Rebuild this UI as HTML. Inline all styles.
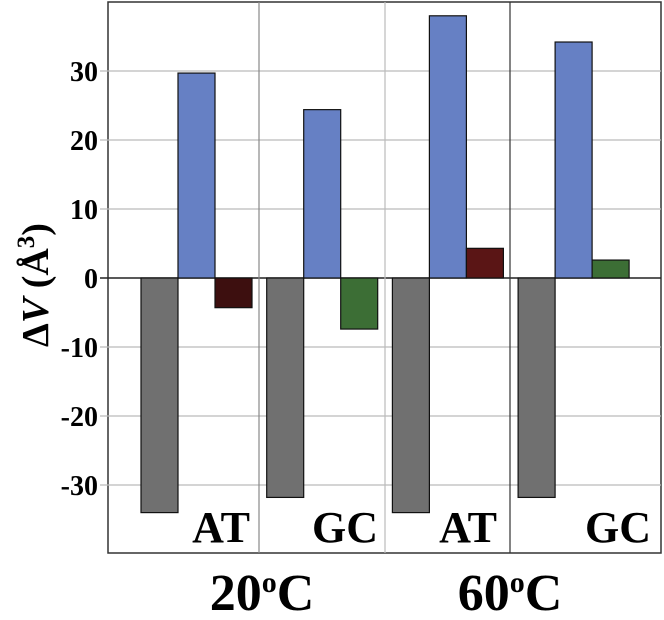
<!DOCTYPE html>
<html><head><meta charset="utf-8"><style>
body{margin:0;background:#fff;width:664px;height:615px;overflow:hidden}
svg text{font-family:"Liberation Serif",serif;font-weight:bold;fill:#000}
</style></head><body>
<svg id="chart" width="664" height="615" xmlns="http://www.w3.org/2000/svg"></svg>
<script>
const yTicks=[30,20,10,0,-10,-20,-30];
const yTickLabels=["30","20","10","0","-10","-20","-30"];
const groups=["AT","GC","AT","GC"];
const grayVals=[-34,-31.8,-34,-31.8];
const blueVals=[29.7,24.4,38,34.2];
const thirdVals=[-4.3,-7.4,4.3,2.6];
const thirdColors=["#3d0f0f","#3c6e35","#5a1515","#3c6e35"];
const temps=["20","60"];

const NS="http://www.w3.org/2000/svg";
const svg=document.getElementById('chart');
const L=108,R=661,T=2,B=553,Y0=278,PX=6.9;
function y(v){return Y0-v*PX;}
function groupX(i){return 141+i*125.7;}
const BW=37;
function mk(tag,attrs,parent){const e=document.createElementNS(NS,tag);for(const k in attrs)e.setAttribute(k,attrs[k]);(parent||svg).appendChild(e);return e;}

const frame=mk('rect',{x:L,y:T,width:R-L,height:B-T,fill:'#fff',stroke:'#333','stroke-width':1.5});



yTicks.forEach((t,i)=>{
  const g=mk('line',{x1:L-8,x2:R,y1:y(t),y2:y(t),stroke:t===0?'#222':'#bbb','stroke-width':t===0?1.5:1.2});
  
  
  const tx=mk('text',{x:98,y:y(t)+10,'text-anchor':'end','font-size':28});
  tx.textContent=yTickLabels[i];
  
  
});

const divs=[[259,'#888'],[385,'#bbb'],[510,'#333']];
divs.forEach(d=>{
  const l=mk('line',{x1:d[0],x2:d[0],y1:T,y2:B,stroke:d[1],'stroke-width':1.2});
  
  
});

function bar(x,v,fill,name){
  const r=mk('rect',{x:x,y:Math.min(y(v),Y0),width:BW,height:Math.abs(y(v)-Y0),fill:fill,stroke:'#111','stroke-width':1.2});
  
  
}
groups.forEach((g,i)=>{
  const x=groupX(i);
  bar(x,grayVals[i],'#707070','bar-gray-'+i);
  bar(x+BW,blueVals[i],'#6680c4','bar-blue-'+i);
  bar(x+2*BW,thirdVals[i],thirdColors[i],'bar-third-'+i);
  const t=mk('text',{x:[250,378,497,651][i],y:542,'text-anchor':'end','font-size':44});
  t.textContent=g;
  
  
});

temps.forEach((tp,i)=>{
  const t=mk('text',{x:[262,510][i],y:610,'text-anchor':'middle','font-size':52});
  t.innerHTML=tp+'<tspan dy="-18" font-size="30">o</tspan><tspan dy="18">C</tspan>';
  
  
});

const yt=mk('text',{transform:'translate(48,285) rotate(-90)','text-anchor':'middle','font-size':38});
yt.innerHTML='Δ<tspan font-style="italic">V</tspan> (Å<tspan dy="-14" font-size="25">3</tspan><tspan dy="14">)</tspan>';


</script>
</body></html>
